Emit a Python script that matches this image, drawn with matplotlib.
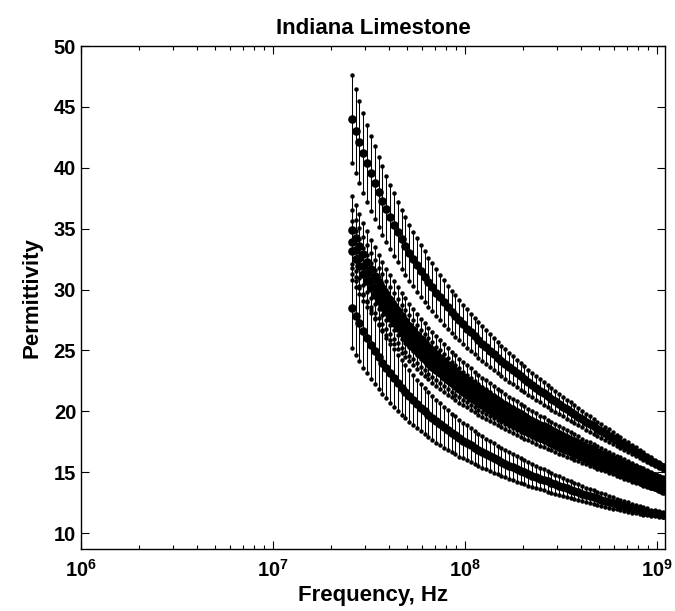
import matplotlib
matplotlib.use("Agg")
import matplotlib.pyplot as plt
import numpy as np
from matplotlib.ticker import LogLocator, NullFormatter, FixedLocator

plt.rcParams['font.family'] = ['Liberation Sans', 'DejaVu Sans']
plt.rcParams['font.weight'] = 'bold'
plt.rcParams['mathtext.fontset'] = 'custom'
plt.rcParams['mathtext.rm'] = 'Liberation Sans:bold'
plt.rcParams['mathtext.it'] = 'Liberation Sans:bold'
plt.rcParams['mathtext.bf'] = 'Liberation Sans:bold'

# Measurement frequencies, MHz
freq_mhz = [25.70, 26.92, 28.18, 29.51, 30.90, 32.36, 33.88, 35.48, 37.15, 38.90,
            40.74, 42.66, 44.67, 46.77, 48.98, 51.29, 53.70, 56.23, 58.88, 61.66,
            64.57, 67.61, 70.79, 74.13, 77.62, 81.28, 85.11, 89.13, 93.33, 97.72,
            102.3, 107.2, 112.2, 117.5, 123.0, 128.8, 134.9, 141.3, 147.9, 154.9,
            162.2, 169.8, 177.8, 186.2, 195.0, 204.2, 213.8, 223.9, 234.4, 245.5,
            257.0, 269.2, 281.8, 295.1, 309.0, 323.6, 338.8, 354.8, 371.5, 389.0,
            407.4, 426.6, 446.7, 467.7, 489.8, 512.9, 537.0, 562.3, 588.8, 616.6,
            645.7, 676.1, 707.9, 741.3, 776.2, 812.8, 851.1, 891.3, 933.3, 977.2,
            1023.3, 1071.5]

# Mean permittivity of each sample
eps_a = [44.00, 43.03, 42.10, 41.21, 40.36, 39.55, 38.77, 38.03, 37.31, 36.63,
         35.97, 35.34, 34.73, 34.14, 33.58, 33.04, 32.52, 32.02, 31.53, 31.07,
         30.61, 30.18, 29.75, 29.35, 28.95, 28.56, 28.19, 27.83, 27.48, 27.14,
         26.80, 26.48, 26.16, 25.85, 25.55, 25.26, 24.97, 24.69, 24.42, 24.15,
         23.88, 23.62, 23.37, 23.12, 22.87, 22.63, 22.39, 22.16, 21.93, 21.70,
         21.48, 21.25, 21.03, 20.82, 20.60, 20.39, 20.18, 19.98, 19.77, 19.57,
         19.36, 19.16, 18.97, 18.77, 18.57, 18.38, 18.19, 17.99, 17.80, 17.61,
         17.43, 17.24, 17.05, 16.87, 16.68, 16.50, 16.31, 16.13, 15.95, 15.77,
         15.59, 15.40]
eps_b = [34.90, 34.20, 33.55, 32.89, 32.30, 31.70, 31.15, 30.62, 30.10, 29.61,
         29.14, 28.69, 28.26, 27.83, 27.44, 27.05, 26.68, 26.31, 25.96, 25.63,
         25.31, 25.00, 24.69, 24.40, 24.12, 23.83, 23.56, 23.32, 23.05, 22.81,
         22.58, 22.33, 22.11, 21.88, 21.68, 21.47, 21.27, 21.06, 20.86, 20.67,
         20.49, 20.28, 20.12, 19.94, 19.75, 19.59, 19.40, 19.24, 19.07, 18.91,
         18.77, 18.60, 18.44, 18.30, 18.13, 17.97, 17.82, 17.68, 17.54, 17.39,
         17.23, 17.09, 16.96, 16.82, 16.68, 16.53, 16.41, 16.27, 16.12, 15.98,
         15.86, 15.71, 15.59, 15.45, 15.32, 15.18, 15.06, 14.93, 14.79, 14.67,
         14.54, 14.40]
eps_c = [33.90, 33.22, 32.58, 31.94, 31.36, 30.78, 30.24, 29.72, 29.22, 28.74,
         28.28, 27.84, 27.42, 27.00, 26.62, 26.24, 25.88, 25.52, 25.18, 24.86,
         24.54, 24.24, 23.94, 23.66, 23.38, 23.10, 22.84, 22.60, 22.34, 22.10,
         21.88, 21.64, 21.42, 21.20, 21.00, 20.80, 20.60, 20.40, 20.20, 20.02,
         19.84, 19.64, 19.48, 19.30, 19.12, 18.96, 18.78, 18.62, 18.46, 18.30,
         18.16, 18.00, 17.84, 17.70, 17.54, 17.38, 17.24, 17.10, 16.96, 16.82,
         16.66, 16.52, 16.40, 16.26, 16.12, 15.98, 15.86, 15.72, 15.58, 15.44,
         15.32, 15.18, 15.06, 14.92, 14.80, 14.66, 14.54, 14.42, 14.28, 14.16,
         14.04, 13.90]
eps_d = [33.20, 32.53, 31.90, 31.27, 30.70, 30.13, 29.59, 29.08, 28.59, 28.12,
         27.66, 27.23, 26.82, 26.40, 26.03, 25.65, 25.30, 24.95, 24.61, 24.30,
         23.98, 23.68, 23.39, 23.11, 22.84, 22.56, 22.31, 22.07, 21.81, 21.58,
         21.36, 21.12, 20.91, 20.69, 20.49, 20.30, 20.10, 19.90, 19.71, 19.53,
         19.35, 19.15, 19.00, 18.82, 18.64, 18.48, 18.31, 18.15, 17.99, 17.83,
         17.70, 17.54, 17.38, 17.24, 17.09, 16.93, 16.79, 16.65, 16.51, 16.38,
         16.22, 16.08, 15.96, 15.82, 15.69, 15.55, 15.43, 15.29, 15.15, 15.02,
         14.90, 14.76, 14.64, 14.50, 14.39, 14.25, 14.13, 14.01, 13.87, 13.76,
         13.64, 13.50]
eps_e = [28.50, 27.84, 27.22, 26.60, 26.04, 25.49, 24.97, 24.48, 24.01, 23.56,
         23.13, 22.73, 22.34, 21.95, 21.60, 21.26, 20.93, 20.60, 20.30, 20.01,
         19.73, 19.46, 19.20, 18.95, 18.70, 18.46, 18.23, 18.03, 17.80, 17.60,
         17.41, 17.21, 17.02, 16.83, 16.67, 16.50, 16.33, 16.17, 16.00, 15.86,
         15.71, 15.55, 15.42, 15.27, 15.13, 15.00, 14.86, 14.73, 14.61, 14.48,
         14.37, 14.25, 14.12, 14.02, 13.90, 13.78, 13.67, 13.57, 13.46, 13.36,
         13.24, 13.14, 13.06, 12.96, 12.86, 12.76, 12.68, 12.58, 12.48, 12.39,
         12.31, 12.22, 12.14, 12.05, 11.98, 11.90, 11.82, 11.76, 11.68, 11.62,
         11.56, 11.50]

# Standard deviation of each sample
err_a = [3.60, 3.48, 3.38, 3.27, 3.17, 3.07, 2.98, 2.89, 2.81, 2.73,
         2.65, 2.57, 2.50, 2.43, 2.37, 2.30, 2.24, 2.18, 2.12, 2.07,
         2.02, 1.97, 1.92, 1.87, 1.82, 1.77, 1.73, 1.69, 1.65, 1.60,
         1.57, 1.53, 1.49, 1.45, 1.42, 1.38, 1.35, 1.32, 1.28, 1.25,
         1.22, 1.19, 1.16, 1.13, 1.10, 1.07, 1.04, 1.02, 0.99, 0.96,
         0.94, 0.91, 0.88, 0.86, 0.83, 0.81, 0.78, 0.76, 0.73, 0.71,
         0.68, 0.66, 0.64, 0.62, 0.59, 0.57, 0.55, 0.53, 0.50, 0.48,
         0.46, 0.43, 0.41, 0.39, 0.37, 0.35, 0.32, 0.30, 0.28, 0.26,
         0.24, 0.22]
err_b = [2.80, 2.71, 2.63, 2.54, 2.47, 2.39, 2.32, 2.25, 2.18, 2.12,
         2.06, 2.00, 1.95, 1.89, 1.84, 1.79, 1.74, 1.70, 1.65, 1.61,
         1.57, 1.53, 1.49, 1.45, 1.42, 1.38, 1.34, 1.31, 1.28, 1.25,
         1.22, 1.19, 1.16, 1.13, 1.10, 1.08, 1.05, 1.02, 1.00, 0.97,
         0.95, 0.92, 0.90, 0.88, 0.85, 0.83, 0.81, 0.79, 0.77, 0.75,
         0.73, 0.71, 0.69, 0.67, 0.65, 0.63, 0.61, 0.59, 0.57, 0.55,
         0.53, 0.51, 0.50, 0.48, 0.46, 0.44, 0.43, 0.41, 0.39, 0.37,
         0.36, 0.34, 0.32, 0.30, 0.29, 0.27, 0.25, 0.24, 0.22, 0.20,
         0.19, 0.17]
err_c = [2.60, 2.52, 2.44, 2.36, 2.29, 2.22, 2.15, 2.09, 2.03, 1.97,
         1.91, 1.86, 1.81, 1.76, 1.71, 1.66, 1.62, 1.58, 1.53, 1.50,
         1.46, 1.42, 1.38, 1.35, 1.32, 1.28, 1.25, 1.22, 1.19, 1.16,
         1.13, 1.10, 1.07, 1.05, 1.02, 1.00, 0.98, 0.95, 0.93, 0.90,
         0.88, 0.86, 0.84, 0.82, 0.79, 0.77, 0.75, 0.73, 0.71, 0.69,
         0.68, 0.66, 0.64, 0.62, 0.60, 0.58, 0.56, 0.55, 0.53, 0.51,
         0.49, 0.48, 0.46, 0.44, 0.43, 0.41, 0.40, 0.38, 0.36, 0.34,
         0.33, 0.31, 0.30, 0.28, 0.27, 0.25, 0.23, 0.22, 0.20, 0.19,
         0.17, 0.16]
err_d = [2.40, 2.32, 2.25, 2.18, 2.11, 2.05, 1.99, 1.93, 1.87, 1.82,
         1.77, 1.72, 1.67, 1.62, 1.58, 1.54, 1.50, 1.45, 1.42, 1.38,
         1.34, 1.31, 1.28, 1.25, 1.21, 1.18, 1.15, 1.13, 1.10, 1.07,
         1.04, 1.02, 0.99, 0.97, 0.95, 0.92, 0.90, 0.88, 0.85, 0.84,
         0.81, 0.79, 0.77, 0.75, 0.73, 0.72, 0.69, 0.68, 0.66, 0.64,
         0.62, 0.61, 0.59, 0.57, 0.55, 0.54, 0.52, 0.50, 0.49, 0.47,
         0.46, 0.44, 0.43, 0.41, 0.39, 0.38, 0.36, 0.35, 0.33, 0.32,
         0.30, 0.29, 0.28, 0.26, 0.24, 0.23, 0.22, 0.20, 0.19, 0.17,
         0.16, 0.14]
err_e = [3.30, 3.19, 3.10, 3.00, 2.91, 2.81, 2.73, 2.65, 2.57, 2.50,
         2.43, 2.36, 2.29, 2.23, 2.17, 2.11, 2.06, 2.00, 1.95, 1.90,
         1.85, 1.80, 1.76, 1.71, 1.67, 1.62, 1.58, 1.55, 1.51, 1.47,
         1.44, 1.40, 1.36, 1.33, 1.30, 1.27, 1.24, 1.21, 1.17, 1.15,
         1.12, 1.09, 1.06, 1.04, 1.01, 0.98, 0.95, 0.93, 0.90, 0.88,
         0.86, 0.83, 0.81, 0.79, 0.76, 0.74, 0.72, 0.69, 0.67, 0.65,
         0.63, 0.60, 0.59, 0.56, 0.54, 0.52, 0.50, 0.48, 0.46, 0.44,
         0.42, 0.40, 0.38, 0.36, 0.34, 0.32, 0.30, 0.28, 0.26, 0.24,
         0.22, 0.20]

y_ticks = [10, 15, 20, 25, 30, 35, 40, 45, 50]
x_exponents = [6, 7, 8, 9]

freq_hz = np.array(freq_mhz) * 1e6

fig = plt.figure(figsize=(6.75, 6.11), dpi=100)
ax = fig.add_axes([0.12, 0.1015, 0.865, 0.8232])

for mean, err in [(eps_a, err_a), (eps_b, err_b), (eps_c, err_c),
                  (eps_d, err_d), (eps_e, err_e)]:
    mean = np.array(mean)
    err = np.array(err)
    ax.errorbar(freq_hz, mean, yerr=err, fmt='none', ecolor='black',
                elinewidth=0.75, capsize=0)
    ax.plot(freq_hz, mean + err, 'o', color='black', ms=3.2, mew=0)
    ax.plot(freq_hz, mean - err, 'o', color='black', ms=3.2, mew=0)
    ax.plot(freq_hz, mean, 'o', color='black', ms=6.2, mew=0)

ax.set_xscale('log')
ax.set_xlim(1e6, 1.1e9)
ax.set_ylim(8.7, 50)
ax.xaxis.set_major_locator(FixedLocator([10.0 ** e for e in x_exponents]))
ax.set_xticklabels([rf'$10^{{{e}}}$' for e in x_exponents])
ax.xaxis.set_minor_locator(LogLocator(base=10, subs=np.arange(2, 10)))
ax.xaxis.set_minor_formatter(NullFormatter())
ax.set_yticks(y_ticks)

ax.tick_params(which='both', direction='in', top=True, right=True,
               labelsize=14.5, width=0.8)
ax.tick_params(which='major', length=6)
ax.tick_params(which='minor', length=3)
ax.tick_params(axis='x', which='major', pad=7)
for sp in ax.spines.values():
    sp.set_linewidth(1.0)

ax.set_title('Indiana Limestone', fontsize=16, fontweight='bold', pad=9)
ax.set_xlabel('Frequency, Hz', fontsize=16, fontweight='bold', labelpad=3)
ax.set_ylabel('Permittivity', fontsize=16, fontweight='bold', labelpad=8)

fig.savefig('out.png', dpi=100)
